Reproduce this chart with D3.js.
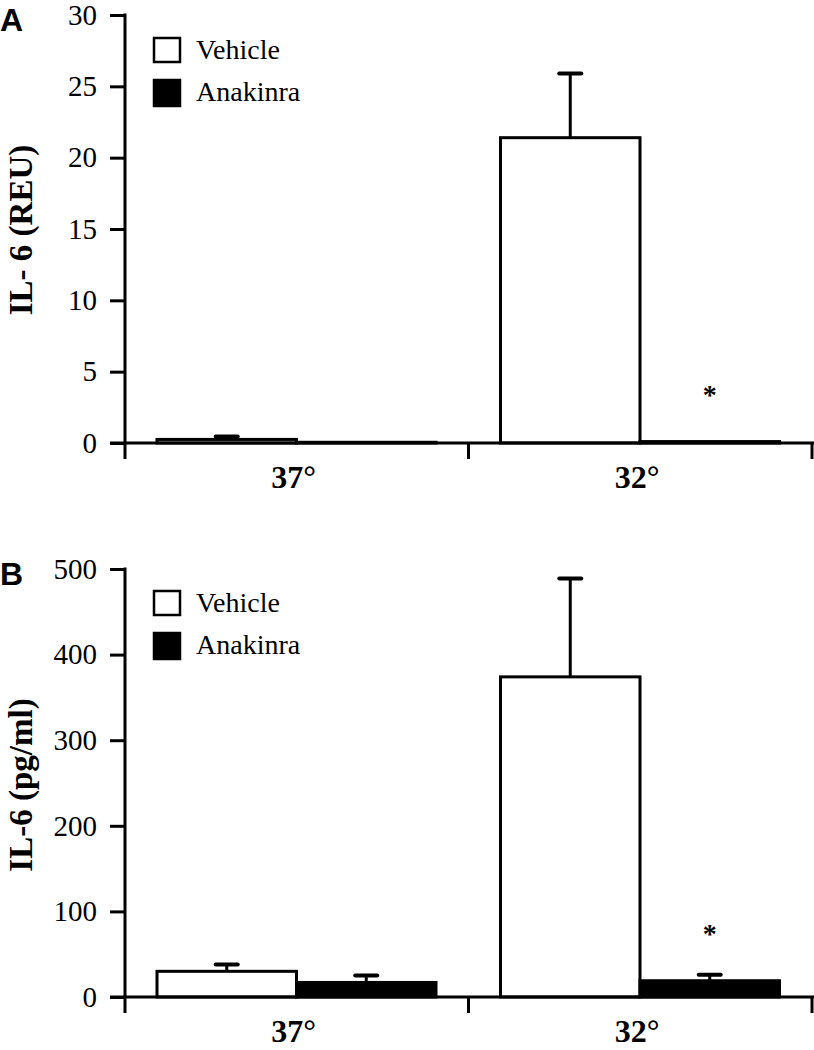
<!DOCTYPE html>
<html><head><meta charset="utf-8">
<script src="https://cdn.jsdelivr.net/npm/d3@7"></script>
<style>body{margin:0;background:#fff}</style>
</head><body>
<script>
const categories = ["37°", "32°"];
const series = ["Vehicle", "Anakinra"];
// Panel A: IL-6 (REU)
const vehicleA = [0.25, 21.4];
const vehicleAErr = [0.2, 4.5];
const anakinraA = [0.05, 0.1];
const anakinraAErr = [0, 0];
const ticksA = [0, 5, 10, 15, 20, 25, 30];
// Panel B: IL-6 (pg/ml)
const vehicleB = [30, 374];
const vehicleBErr = [8, 115];
const anakinraB = [17, 19];
const anakinraBErr = [8, 7];
const ticksB = [0, 100, 200, 300, 400, 500];
const sigA = [false, true];
const sigB = [false, true];

const W = 814, H = 1050;
const svg = d3.select("body").append("svg").attr("width", W).attr("height", H);
const serif = "'Liberation Serif','Times New Roman',Times,serif";
const sans = "'Liberation Sans',Arial,sans-serif";

function panel(cfg) {
  const g = svg.append("g");
  const x = d3.scaleBand().domain(categories).range([125, 812]);
  const xs = d3.scaleBand().domain(series).range([32, 311]);
  const y = d3.scaleLinear().domain([0, cfg.max]).range([cfg.y0, cfg.yTop]);
  const rows = [];
  categories.forEach((c, i) => {
    rows.push({c, s: "Vehicle", v: cfg.veh[i], e: cfg.vehErr[i]});
    rows.push({c, s: "Anakinra", v: cfg.ana[i], e: cfg.anaErr[i]});
  });
  // error bars
  rows.filter(d => d.e > 0).forEach(d => {
    const cx = x(d.c) + xs(d.s) + xs.bandwidth() / 2;
    g.append("line").attr("x1", cx).attr("x2", cx).attr("y1", y(d.v)).attr("y2", y(d.v + d.e))
      .attr("stroke", "#000").attr("stroke-width", 3);
    g.append("line").attr("x1", cx - 11).attr("x2", cx + 11).attr("y1", y(d.v + d.e)).attr("y2", y(d.v + d.e))
      .attr("stroke", "#000").attr("stroke-width", 4).attr("stroke-linecap", "round");
  });
  // bars
  g.selectAll("rect.bar").data(rows).join("rect")
    .attr("x", d => x(d.c) + xs(d.s))
    .attr("width", xs.bandwidth())
    .attr("y", d => y(d.v))
    .attr("height", d => y(0) - y(d.v))
    .attr("fill", d => d.s === "Vehicle" ? "#fff" : "#000")
    .attr("stroke", "#000").attr("stroke-width", 3);
  // y axis
  const ya = g.append("g").attr("transform", "translate(125,0)")
    .call(d3.axisLeft(y).tickValues(cfg.ticks).tickSize(15).tickSizeOuter(0).tickPadding(13));
  ya.select(".domain").remove();
  ya.selectAll(".tick line").attr("stroke", "#000").attr("stroke-width", 3);
  ya.selectAll(".tick text").attr("font-family", serif).attr("font-size", 29).attr("fill", "#000");
  g.append("line").attr("x1", 125).attr("x2", 125).attr("y1", y(cfg.max) - 1.5).attr("y2", y(0) + 16)
    .attr("stroke", "#000").attr("stroke-width", 3);
  // x axis
  g.append("line").attr("x1", 110).attr("x2", W).attr("y1", y(0)).attr("y2", y(0))
    .attr("stroke", "#000").attr("stroke-width", 3);
  [x(categories[1]), 812].forEach(px => {
    g.append("line").attr("x1", px).attr("x2", px).attr("y1", y(0)).attr("y2", y(0) + 16)
      .attr("stroke", "#000").attr("stroke-width", 3);
  });
  categories.forEach(c => {
    g.append("text").attr("x", x(c) + x.bandwidth() / 2 - 3).attr("y", y(0) + 45)
      .attr("text-anchor", "middle").attr("font-family", serif).attr("font-weight", "bold")
      .attr("font-size", 32).text(c);
  });
  // significance
  categories.forEach((c, i) => {
    if (cfg.sig[i]) {
      const cx = x(c) + xs("Anakinra") + xs.bandwidth() / 2;
      g.append("text").attr("x", cx).attr("y", cfg.starY).attr("text-anchor", "middle")
        .attr("font-family", serif).attr("font-weight", "bold").attr("font-size", 28).text("*");
    }
  });
  // y title
  g.append("text").attr("transform", `translate(32,${cfg.titleY}) rotate(-90)`)
    .attr("text-anchor", "middle").attr("font-family", serif).attr("font-weight", "bold")
    .attr("font-size", 33).text(cfg.title);
  // panel letter
  g.append("text").attr("x", 0).attr("y", cfg.yTop + 16).attr("font-family", sans)
    .attr("font-weight", "bold").attr("font-size", 32).text(cfg.letter);
  // legend
  series.forEach((s, i) => {
    const ly = cfg.legY + i * 42;
    g.append("rect").attr("x", 154).attr("y", ly).attr("width", 26).attr("height", i === 0 ? 24 : 26)
      .attr("fill", s === "Vehicle" ? "#fff" : "#000").attr("stroke", "#000").attr("stroke-width", 2.5);
    g.append("text").attr("x", 196).attr("y", ly + 21).attr("font-family", serif)
      .attr("font-size", 28).text(s);
  });
}

panel({letter: "A", max: 30, y0: 443, yTop: 15, ticks: ticksA, veh: vehicleA, vehErr: vehicleAErr,
  ana: anakinraA, anaErr: anakinraAErr, sig: sigA, starY: 404, title: "IL- 6 (REU)", titleY: 230, legY: 38});
panel({letter: "B", max: 500, y0: 997, yTop: 569, ticks: ticksB, veh: vehicleB, vehErr: vehicleBErr,
  ana: anakinraB, anaErr: anakinraBErr, sig: sigB, starY: 943, title: "IL-6 (pg/ml)", titleY: 785, legY: 591});
</script>
</body></html>
